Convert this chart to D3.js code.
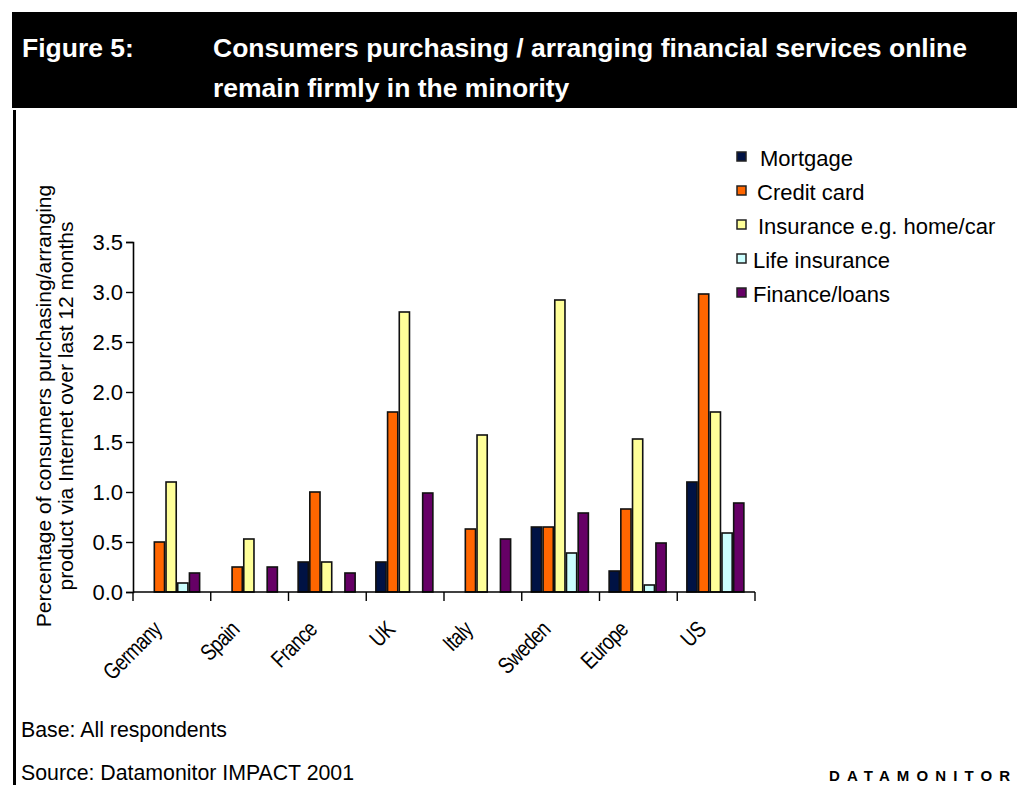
<!DOCTYPE html>
<html>
<head>
<meta charset="utf-8">
<script src="https://cdn.jsdelivr.net/npm/d3@7"></script>
<style>
  html, body { margin: 0; padding: 0; background: #fff; }
  svg { display: block; font-family: "Liberation Sans", Arial, sans-serif; }
</style>
</head>
<body>
<svg id="chart" width="1017" height="785"></svg>
<script>
// Countries / regions along the x axis
const categories = ["Germany", "Spain", "France", "UK", "Italy", "Sweden", "Europe", "US"];

// Product series (percentage of consumers)
const seriesNames = ["Mortgage", "Credit card", "Insurance e.g. home/car", "Life insurance", "Finance/loans"];
const mortgage      = [0,    0,    0.3,  0.3,  0,    0.65, 0.21, 1.1];
const creditCard    = [0.5,  0.25, 1.0,  1.8,  0.63, 0.65, 0.83, 2.98];
const insurance     = [1.1,  0.53, 0.3,  2.8,  1.57, 2.92, 1.53, 1.8];
const lifeInsurance = [0.09, 0,    0,    0,    0,    0.39, 0.07, 0.59];
const financeLoans  = [0.19, 0.25, 0.19, 0.99, 0.53, 0.79, 0.49, 0.89];
const seriesValues = [mortgage, creditCard, insurance, lifeInsurance, financeLoans];
const seriesColors = ["#001244", "#ff6600", "#ffff99", "#ccffff", "#660066"];

const yTicks = [0, 0.5, 1.0, 1.5, 2.0, 2.5, 3.0, 3.5];

const svg = d3.select("#chart");

// Header band
svg.append("rect").attr("x", 12).attr("y", 12).attr("width", 1005).attr("height", 96).attr("fill", "#000");
svg.append("text").attr("x", 22).attr("y", 57)
  .attr("fill", "#fff").attr("font-weight", "bold").attr("font-size", 26.5)
  .text("Figure 5:");
const titleLines = ["Consumers purchasing / arranging financial services online", "remain firmly in the minority"];
svg.append("text").attr("x", 213).attr("y", 57)
  .attr("fill", "#fff").attr("font-weight", "bold").attr("font-size", 26.5)
  .selectAll("tspan").data(titleLines).join("tspan")
  .attr("x", 213).attr("dy", (d, i) => i === 0 ? 0 : 40).text(d => d);

// Left frame rule
svg.append("rect").attr("x", 13).attr("y", 110).attr("width", 3).attr("height", 675).attr("fill", "#000");

// Plot area
const x0 = 133, x1 = 755, yBase = 592, yTop = 242;
const x = d3.scaleBand().domain(categories).range([x0, x1]).paddingInner(0).paddingOuter(0);
const y = d3.scaleLinear().domain([0, 3.5]).range([yBase, yTop]);
const barStep = 11.7;
const groupWidth = barStep * seriesNames.length;

// Bars
const g = svg.append("g");
seriesNames.forEach((name, si) => {
  g.append("g").selectAll("rect")
    .data(categories.map((c, ci) => ({ c, v: seriesValues[si][ci] })).filter(d => d.v > 0))
    .join("rect")
    .attr("x", d => x(d.c) + (x.bandwidth() - groupWidth) / 2 + si * barStep)
    .attr("y", d => y(d.v))
    .attr("width", barStep - 1.5)
    .attr("height", d => yBase - y(d.v))
    .attr("fill", seriesColors[si])
    .attr("stroke", "#111")
    .attr("stroke-width", 1.6);
});

// Y axis
const yAxis = d3.axisLeft(y).tickValues(yTicks).tickFormat(d3.format(".1f")).tickSize(7).tickPadding(3);
const yg = svg.append("g").attr("transform", `translate(${x0},0)`).call(yAxis);
yg.select(".domain").attr("stroke", "#000").attr("stroke-width", 1.6);
yg.selectAll(".tick line").attr("stroke", "#000").attr("stroke-width", 1.4);
yg.selectAll(".tick text").attr("font-size", 22).attr("fill", "#000")
  .attr("font-family", "Liberation Sans, Arial, sans-serif");

// X axis line with category boundary ticks
svg.append("line").attr("x1", x0).attr("x2", x1).attr("y1", yBase).attr("y2", yBase)
  .attr("stroke", "#000").attr("stroke-width", 1.6);
const boundaries = categories.map(c => x(c)).concat([x1]);
svg.append("g").selectAll("line").data(boundaries).join("line")
  .attr("x1", d => d).attr("x2", d => d).attr("y1", yBase).attr("y2", yBase + 9)
  .attr("stroke", "#000").attr("stroke-width", 1.4);

// Rotated, horizontally condensed category labels
svg.append("g").selectAll("text").data(categories).join("text")
  .attr("transform", d => `translate(${x(d) + x.bandwidth() / 2 - 9},${yBase + 39}) rotate(-45) scale(0.8,1)`)
  .attr("text-anchor", "end")
  .attr("font-size", 23)
  .attr("letter-spacing", -0.8)
  .attr("fill", "#000")
  .text(d => d);

// Y axis title
const yTitle = ["Percentage of consumers purchasing/arranging", "product via Internet over last 12 months"];
svg.append("g").attr("transform", "translate(51,406) rotate(-90)")
  .selectAll("text").data(yTitle).join("text")
  .attr("x", 0).attr("y", (d, i) => i * 21.5)
  .attr("text-anchor", "middle").attr("font-size", 21).attr("fill", "#000")
  .text(d => d);

// Legend
const legendY = [158, 192, 226, 260, 294];
const legendTextX = [760, 757, 758, 753, 753];
const lg = svg.append("g");
seriesNames.forEach((name, i) => {
  lg.append("rect").attr("x", 737).attr("y", legendY[i] - 6).attr("width", 9).attr("height", 9)
    .attr("fill", seriesColors[i]).attr("stroke", "#222").attr("stroke-width", 1.5);
  lg.append("text").attr("x", legendTextX[i]).attr("y", legendY[i] + 8)
    .attr("font-size", 22).attr("fill", "#000").text(name);
});

// Footer notes
svg.append("text").attr("x", 21).attr("y", 737).attr("font-size", 21.3).attr("fill", "#000").text("Base: All respondents");
svg.append("text").attr("x", 21).attr("y", 780).attr("font-size", 21.3).attr("fill", "#000").text("Source: Datamonitor IMPACT 2001");
svg.append("text").attr("x", 829).attr("y", 781)
  .attr("font-size", 15).attr("font-weight", "bold").attr("letter-spacing", 7.1).attr("fill", "#000")
  .text("DATAMONITOR");
</script>
</body>
</html>
